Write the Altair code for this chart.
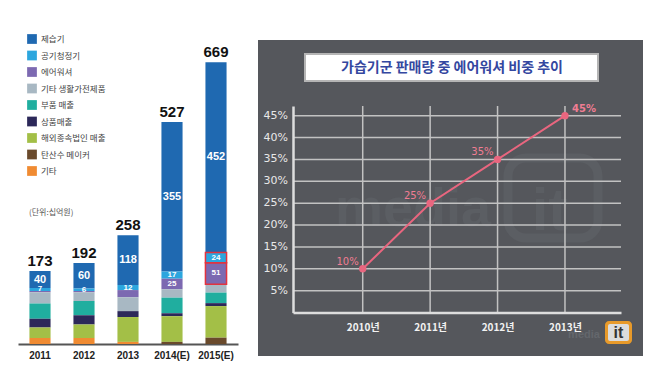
import altair as alt
import pandas as pd

# ---------------- left panel data ----------------
years = ["2011", "2012", "2013", "2014(E)", "2015(E)"]
totals = [173, 192, 258, 527, 669]
categories = ["제습기", "공기청정기", "에어워셔", "기타 생활가전제품", "부품 매출",
              "상품매출", "해외종속법인 매출", "탄산수 메이커", "기타"]
colors = ["#1f69b1", "#2ca6de", "#7c69b1", "#a8b8c3", "#20ae9f",
          "#2c2859", "#a3bf47", "#6a4a2c", "#f08b32"]
v_dehumid = [40, 60, 118, 355, 452]
v_aircln = [7, 6, 12, 17, 24]
v_washer = [3, 3, 17, 25, 51]
v_etc_home = [27, 21, 33, 20, 20]
v_parts = [36, 34, 0, 37, 25]
v_goods = [21, 22, 14, 7, 7]
v_overseas = [25, 32, 59, 61, 75]
v_soda = [0, 0, 0, 5, 15]
v_etc = [14, 14, 5, 0, 0]
series = [v_dehumid, v_aircln, v_washer, v_etc_home, v_parts,
          v_goods, v_overseas, v_soda, v_etc]
unit_text = "(단위:십억원)"

# ---------------- right panel data ----------------
line_years = [2010, 2011, 2012, 2013]
line_share = [10, 25, 35, 45]
y_ticks = [5, 10, 15, 20, 25, 30, 35, 40, 45]
y_tick_labels = ["5%", "10%", "15%", "20%", "25%", "30%", "35%", "40%", "45%"]
right_title = "가습기군 판매량 중 에어워셔 비중 추이"

# ---------------- build stacked table ----------------
rows = []
for i, yr in enumerate(years):
    base = 0
    for cat_idx in range(len(categories) - 1, -1, -1):
        cat = categories[cat_idx]
        val = series[cat_idx][i]
        show = cat in ("제습기", "공기청정기") or (cat == "에어워셔" and val >= 20)
        rows.append({"year": yr, "cat": cat, "order": cat_idx, "value": val,
                     "y0": base, "y1": base + val, "mid": base + val / 2,
                     "label": str(val) if show else "",
                     "big": cat == "제습기",
                     "outline": yr == "2015(E)" and cat in ("공기청정기", "에어워셔")})
        base += val
stack = pd.DataFrame(rows)
stack = stack[stack["value"] > 0]
tot_df = pd.DataFrame({"year": years, "total": totals})

W1, H = 220, 316
xs = alt.Scale(domain=years, paddingInner=0.52, paddingOuter=0.26)
ys = alt.Scale(domain=[0, 750])
X = alt.X("year:N", scale=xs,
          axis=alt.Axis(title=None, labelAngle=0, domainColor="#555555", domainWidth=2,
                        ticks=False, labelFontSize=10, labelFont="Liberation Sans",
                        labelFontWeight="bold", labelColor="#222222", labelPadding=6))

bars = alt.Chart(stack).mark_bar().encode(
    x=X,
    y=alt.Y("y0:Q", scale=ys, axis=None),
    y2="y1:Q",
    color=alt.Color("cat:N", scale=alt.Scale(domain=categories, range=colors),
                    legend=alt.Legend(orient="none", legendX=9, legendY=6, title=None,
                                      symbolType="square", symbolSize=95,
                                      symbolStrokeWidth=0, labelFontSize=8.5,
                                      labelFont="Noto Sans CJK KR", labelColor="#444444",
                                      rowPadding=6.5, labelOffset=4, padding=0)),
    order=alt.Order("order:Q"),
)

outline = alt.Chart(stack[stack["outline"]]).mark_bar(
    fillOpacity=0, stroke="#e2333f", strokeWidth=1.5
).encode(x=alt.X("year:N", scale=xs), y=alt.Y("y0:Q", scale=ys), y2="y1:Q")

seg_big = alt.Chart(stack[(stack["label"] != "") & stack["big"]]).mark_text(
    color="white", fontSize=11, fontWeight="bold", font="Liberation Sans", baseline="middle"
).encode(x=alt.X("year:N", scale=xs), y=alt.Y("mid:Q", scale=ys), text="label:N")

seg_small = alt.Chart(stack[(stack["label"] != "") & (~stack["big"])]).mark_text(
    color="white", fontSize=8, fontWeight="bold", font="Liberation Sans", baseline="middle"
).encode(x=alt.X("year:N", scale=xs), y=alt.Y("mid:Q", scale=ys), text="label:N")

tot_text = alt.Chart(tot_df).mark_text(
    fontSize=15, fontWeight="bold", font="Liberation Sans", color="#111111",
    baseline="alphabetic", dy=-5
).encode(x=alt.X("year:N", scale=xs), y=alt.Y("total:Q", scale=ys), text="total:Q")

unit = alt.Chart(pd.DataFrame({"t": [unit_text]})).mark_text(
    fontSize=8, font="Noto Sans CJK KR", color="#555555", align="left", baseline="middle"
).encode(x=alt.value(11), y=alt.value(185), text="t:N")

left = alt.layer(bars, outline, seg_big, seg_small, tot_text, unit).properties(
    width=W1, height=H)

# ---------------- right panel ----------------
W2 = 385
lx = alt.Scale(domain=[2008.966, 2013.831], range=[35, 363])
ly = alt.Scale(domain=[0, 47.2], range=[284.6, 78])

one = pd.DataFrame({"a": [0]})
panel = alt.Chart(one).mark_rect(color="#55575c").encode(
    x=alt.value(0), x2=alt.value(W2), y=alt.value(12), y2=alt.value(328))

wm1 = alt.Chart(pd.DataFrame({"t": ["media"]})).mark_text(
    fontSize=54, fontWeight="bold", font="Liberation Sans", color="#5b5e63",
    baseline="middle").encode(x=alt.value(155), y=alt.value(182), text="t:N")
wm_box = alt.Chart(one).mark_rect(fillOpacity=0, stroke="#5b5e63", strokeWidth=9,
                                  cornerRadius=18).encode(
    x=alt.value(250), x2=alt.value(340), y=alt.value(130), y2=alt.value(210))
wm2 = alt.Chart(pd.DataFrame({"t": ["it"]})).mark_text(
    fontSize=60, fontWeight="bold", font="Liberation Sans", color="#5b5e63",
    baseline="middle").encode(x=alt.value(292), y=alt.value(184), text="t:N")

ytab = pd.DataFrame({"v": y_ticks, "lab": y_tick_labels})
hgrid = alt.Chart(ytab).mark_rule(
    color="#c2c2c2", strokeWidth=1.5).encode(
    y=alt.Y("v:Q", scale=ly, axis=alt.Axis(
        orient="left", offset=-35, values=y_ticks, labels=False,
        domainColor="#dddddd", domainWidth=2.5, ticks=False, grid=False, title=None,
        zindex=1)),
    x=alt.value(35), x2=alt.value(363))
ylabels = alt.Chart(ytab).mark_text(
    color="#e8e8e8", fontSize=11, font="DejaVu Sans", align="right", baseline="middle"
).encode(y=alt.Y("v:Q", scale=ly), x=alt.value(30), text="lab:N")

vgrid = alt.Chart(pd.DataFrame({"yr": line_years})).mark_rule(
    color="#c2c2c2", strokeWidth=1.5).encode(
    x=alt.X("yr:Q", scale=lx, axis=alt.Axis(
        orient="bottom", offset=-31.4, values=line_years, labelExpr="datum.value + '년'",
        domainColor="#dddddd", domainWidth=2.5, ticks=False, grid=False, title=None,
        labelColor="#f2f2f2", labelFontSize=10, labelFont="Noto Sans CJK KR",
        labelFontWeight="bold", labelPadding=10, labelOverlap=False, labelFlush=False,
        zindex=1)),
    y=alt.value(78), y2=alt.value(284.6))

ldf = pd.DataFrame({"yr": line_years, "share": line_share,
                    "lab": [f"{v}%" for v in line_share]})
pink = "#e9667f"
lx_enc = alt.X("yr:Q", scale=lx)
ly_enc = alt.Y("share:Q", scale=ly)
line = alt.Chart(ldf).mark_line(color=pink, strokeWidth=2).encode(x=lx_enc, y=ly_enc)
pts = alt.Chart(ldf).mark_point(color=pink, filled=True, size=55, opacity=1).encode(
    x=lx_enc, y=ly_enc)
lab_l = alt.Chart(ldf[ldf["yr"] < 2013]).mark_text(
    color="#f07d93", fontSize=10, font="DejaVu Sans", align="right", dx=-4, dy=-7
).encode(x=lx_enc, y=ly_enc, text="lab:N")
lab_r = alt.Chart(ldf[ldf["yr"] == 2013]).mark_text(
    color="#f07d93", fontSize=10, font="DejaVu Sans", fontWeight="bold", align="left",
    dx=7, dy=-7).encode(x=lx_enc, y=ly_enc, text="lab:N")

tbox = alt.Chart(one).mark_rect(fill="white", stroke="#b5b5b5", strokeWidth=2).encode(
    x=alt.value(47), x2=alt.value(340), y=alt.value(26), y2=alt.value(53))
ttext = alt.Chart(pd.DataFrame({"t": [right_title]})).mark_text(
    fontSize=14, fontWeight="bold", font="Noto Sans CJK KR", color="#3447a0",
    baseline="middle").encode(x=alt.value(194), y=alt.value(39.5), text="t:N")

logo_o = alt.Chart(one).mark_rect(fill="#e89a2a", cornerRadius=4).encode(
    x=alt.value(347), x2=alt.value(374), y=alt.value(293), y2=alt.value(316))
logo_i = alt.Chart(one).mark_rect(fill="#dcdcdc", cornerRadius=2).encode(
    x=alt.value(350), x2=alt.value(371), y=alt.value(296), y2=alt.value(313))
logo_t = alt.Chart(pd.DataFrame({"t": ["it"]})).mark_text(
    fontSize=16, fontWeight="bold", font="Liberation Sans", color="#333333",
    baseline="middle").encode(x=alt.value(360.5), y=alt.value(305), text="t:N")
logo_m = alt.Chart(pd.DataFrame({"t": ["media"]})).mark_text(
    fontSize=11, fontWeight="bold", font="Liberation Sans", color="#64676c",
    baseline="middle").encode(x=alt.value(326), y=alt.value(307), text="t:N")

right = alt.layer(panel, wm1, wm_box, wm2, hgrid, ylabels, vgrid, line, pts, lab_l, lab_r,
                  tbox, ttext, logo_m, logo_o, logo_i, logo_t).properties(
    width=W2, height=H)

chart = alt.hconcat(left, right, spacing=20).properties(
    padding={"left": 10, "top": 20, "right": 5, "bottom": 5},
    background="white"
).configure_view(stroke=None)

chart.save("out.html", embed_options={"renderer": "svg", "actions": False})
